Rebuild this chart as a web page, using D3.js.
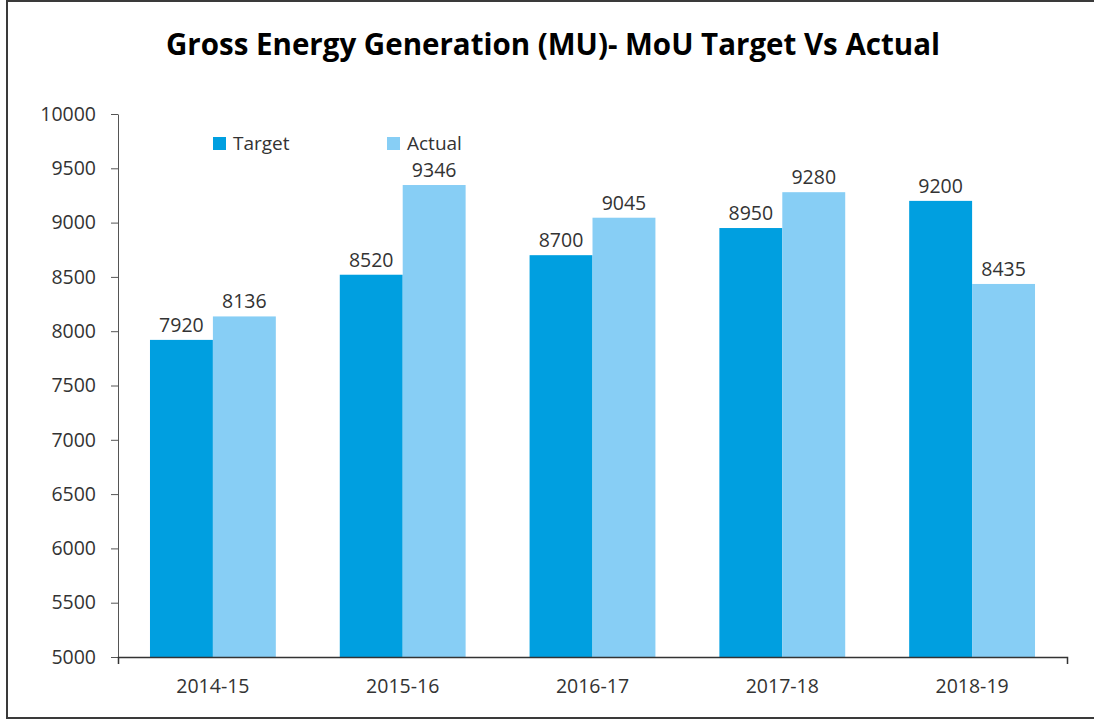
<!DOCTYPE html>
<html>
<head>
<meta charset="utf-8">
<script src="https://cdn.jsdelivr.net/npm/d3@7"></script>
<style>
  body { margin: 0; background: #fff; }
  text { font-family: "Open Sans", "Noto Sans", sans-serif; fill: #333; }
</style>
</head>
<body>
<div id="chart"></div>
<script>
const categories = ['2014-15', '2015-16', '2016-17', '2017-18', '2018-19']
const seriesNames = ['Target', 'Actual']
const target = [7920, 8520, 8700, 8950, 9200]
const actual = [8136, 9346, 9045, 9280, 8435]
const yTicks = [5000, 5500, 6000, 6500, 7000, 7500, 8000, 8500, 9000, 9500, 10000]

const colors = {Target: '#009fe0', Actual: '#87cef5'}
const width = 1094
const height = 721
const margin = {top: 114, right: 27, bottom: 64, left: 118}

const svg = d3.select('#chart').append('svg')
  .attr('width', width)
  .attr('height', height)

// frame
svg.append('rect')
  .attr('x', 7).attr('y', 1)
  .attr('width', width + 10).attr('height', 717)
  .attr('fill', 'none')
  .attr('stroke', '#3a3a3a')
  .attr('stroke-width', 2)

svg.append('text')
  .attr('x', 553).attr('y', 55)
  .attr('text-anchor', 'middle')
  .style('font-size', '29.5px')
  .style('font-weight', 'bold')
  .style('fill', '#000')
  .text('Gross Energy Generation (MU)- MoU Target Vs Actual')

const x0 = d3.scaleBand()
  .domain(categories)
  .range([margin.left, width - margin.right])
  .paddingInner(0.337)
  .paddingOuter(0.337 / 2)

const x1 = d3.scaleBand()
  .domain(seriesNames)
  .range([0, x0.bandwidth()])

const y = d3.scaleLinear()
  .domain([5000, 10000])
  .range([height - margin.bottom, margin.top])

const rows = categories.map((c, i) => ({cat: c, values: [
  {name: 'Target', value: target[i]},
  {name: 'Actual', value: actual[i]}
]}))

const groups = svg.append('g').selectAll('g').data(rows).enter().append('g')
  .attr('transform', d => `translate(${x0(d.cat)},0)`)

groups.selectAll('rect').data(d => d.values).enter().append('rect')
  .attr('x', d => x1(d.name))
  .attr('y', d => y(d.value))
  .attr('width', x1.bandwidth())
  .attr('height', d => y(5000) - y(d.value))
  .attr('fill', d => colors[d.name])

groups.selectAll('.lbl').data(d => d.values).enter().append('text')
  .attr('class', 'lbl')
  .attr('x', d => x1(d.name) + x1.bandwidth() / 2)
  .attr('y', d => y(d.value) - 8)
  .attr('text-anchor', 'middle')
  .style('font-size', '19.5px')
  .text(d => d.value)

// axes
const yAxis = svg.append('g')
  .attr('transform', `translate(${margin.left},0)`)
  .call(d3.axisLeft(y).tickValues(yTicks).tickFormat(d3.format('d'))
    .tickSize(7).tickSizeOuter(0).tickPadding(15))
yAxis.selectAll('text').style('font-size', '19.5px').style('fill', '#333')
yAxis.selectAll('line, path').attr('stroke', '#555')

const xAxis = svg.append('g')
  .attr('transform', `translate(0,${height - margin.bottom})`)
  .call(d3.axisBottom(x0).tickSize(0).tickSizeOuter(7).tickPadding(22))
xAxis.selectAll('text').style('font-size', '19.5px').style('fill', '#333')
xAxis.select('path').attr('stroke', '#333').attr('stroke-width', 1.5)

// legend
const legendX = [213, 387]
const legend = svg.append('g').selectAll('g').data(seriesNames).enter().append('g')
  .attr('transform', (d, i) => `translate(${legendX[i]},137)`)
legend.append('rect')
  .attr('width', 13).attr('height', 13)
  .attr('fill', d => colors[d])
legend.append('text')
  .attr('x', 20).attr('y', 13)
  .style('font-size', '19px')
  .text(d => d)
</script>
</body>
</html>
